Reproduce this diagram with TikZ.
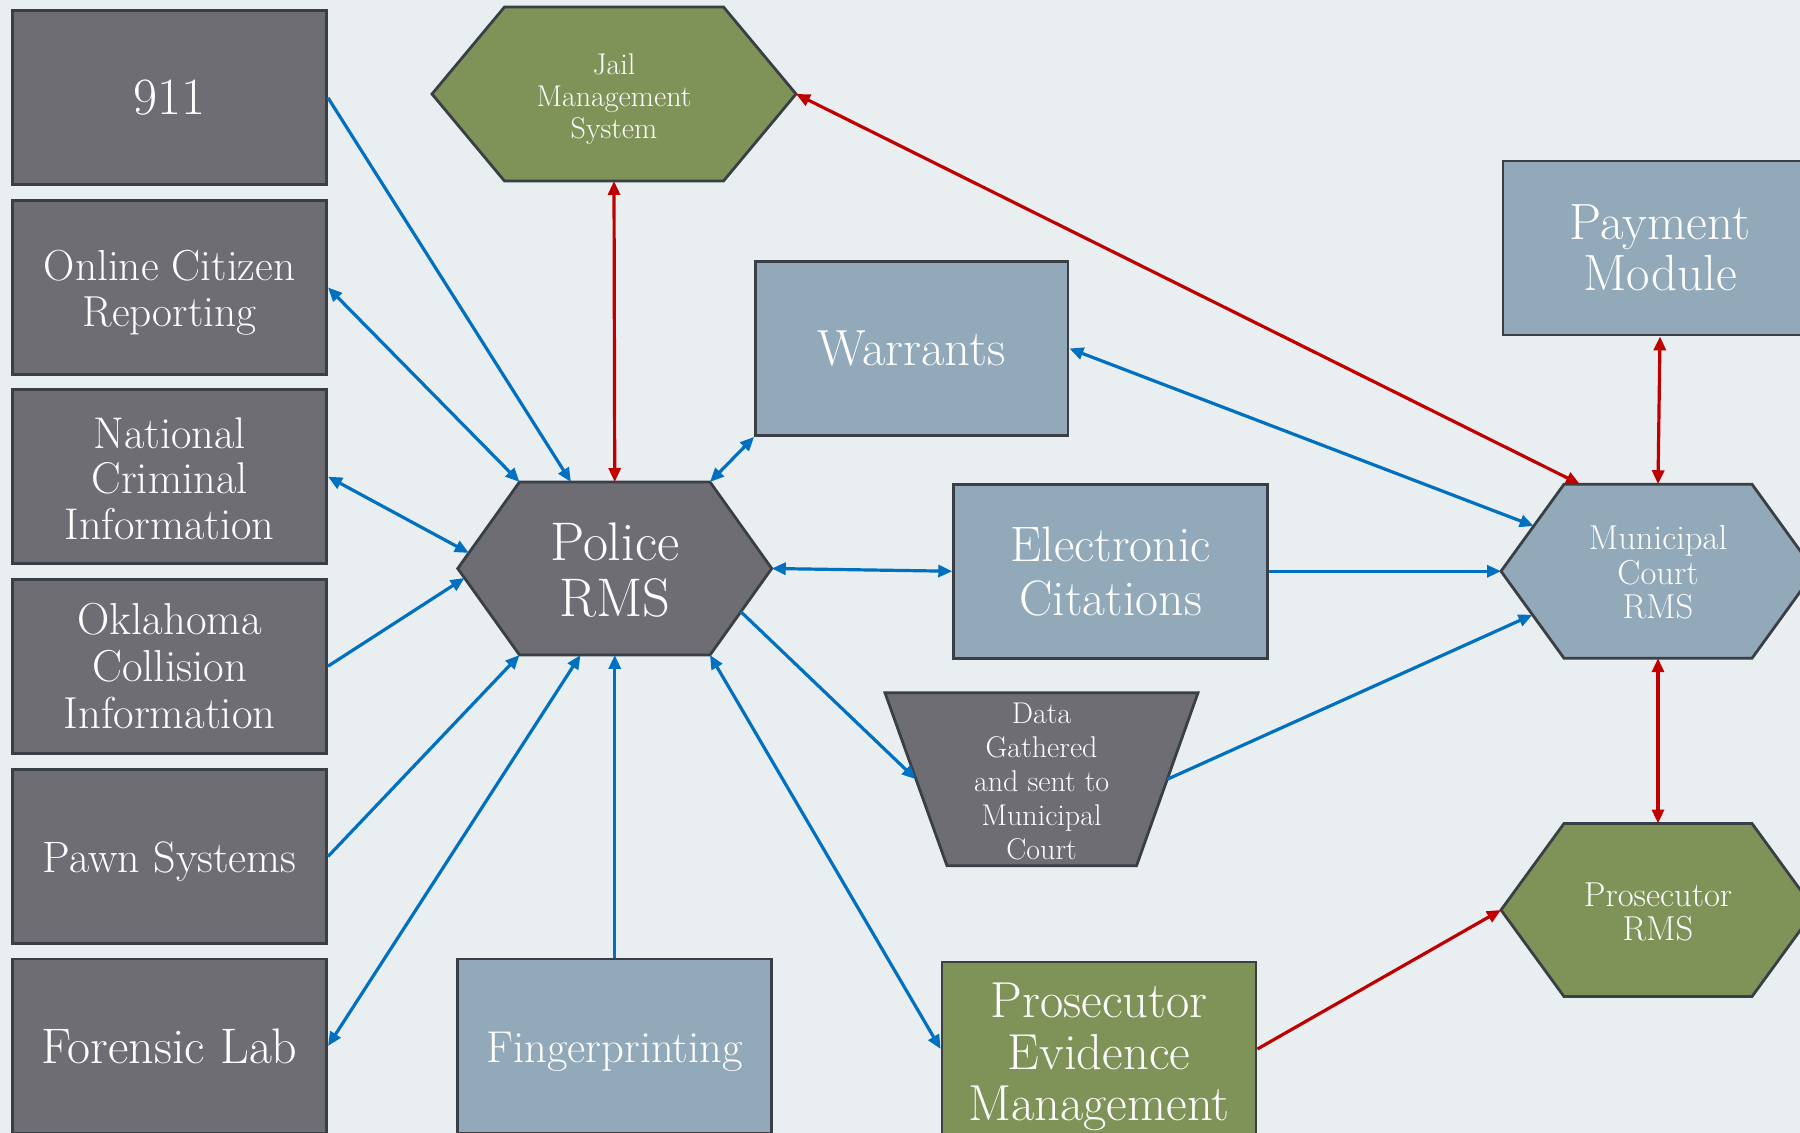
\documentclass[tikz,border=0pt]{standalone}
\usetikzlibrary{calc,arrows.meta}
\definecolor{bgcol}{HTML}{E9EEF1}
\definecolor{edgecol}{HTML}{3A3F45}
\definecolor{darkbox}{HTML}{6E6D73}
\definecolor{slatebox}{HTML}{92A9B9}
\definecolor{olivebox}{HTML}{7F9359}
\definecolor{linkblue}{HTML}{0070C0}
\definecolor{linkred}{HTML}{C00000}
\newcommand\setfs[2]{\fontsize{#1pt}{#2pt}\selectfont}
% name, cx, cy, half width, half flat, half height, style
\newcommand\mkhex[7]{%
  \path[#7] (#2-#4,#3) -- (#2-#5,#3-#6) -- (#2+#5,#3-#6) -- (#2+#4,#3) -- (#2+#5,#3+#6) -- (#2-#5,#3+#6) -- cycle;
  \coordinate (#1-L) at (#2-#4,#3);
  \coordinate (#1-R) at (#2+#4,#3);
  \coordinate (#1-TL) at (#2-#5,#3-#6);
  \coordinate (#1-TR) at (#2+#5,#3-#6);
  \coordinate (#1-BL) at (#2-#5,#3+#6);
  \coordinate (#1-BR) at (#2+#5,#3+#6);
  \coordinate (#1-T) at (#2,#3-#6);
  \coordinate (#1-B) at (#2,#3+#6);
}
\begin{document}
\begin{tikzpicture}[x=0.5pt,y=-0.5pt,
  sysbox/.style={draw=edgecol,line width=1.4pt,minimum width=157pt,minimum height=87pt,inner sep=0pt,text=white,align=center},
  shapeline/.style={draw=edgecol,line width=1.4pt},
  dark/.style={fill=darkbox},
  slate/.style={fill=slatebox},
  olive/.style={fill=olivebox},
  lbl/.style={text=white,align=center,inner sep=0pt},
  tip/.tip={Triangle[length=7pt,width=6pt]},
  bluelink/.style={draw=linkblue,line width=1.6pt,-tip},
  bluelinks/.style={draw=linkblue,line width=1.6pt,tip-tip},
  redlink/.style={draw=linkred,line width=1.6pt,-tip},
  redlinks/.style={draw=linkred,line width=1.6pt,tip-tip}]
\useasboundingbox (0,0) rectangle (1800,1133);
\clip (0,0) rectangle (1800,1133);
\fill[bgcol] (0,0) rectangle (1800,1133);

% left column
\node[sysbox,dark,font=\setfs{26.2}{30}] (n911) at (169.6,97.8) {911};
\node[sysbox,dark] (online) at (169.6,287.5) {};
\node[lbl,font=\setfs{21.7}{23}] (onlinetxt) at ([yshift=-2.5pt]online.center) {Online Citizen\\Reporting};
\node[sysbox,dark] (national) at (169.6,476.7) {};
\node[lbl,font=\setfs{22.2}{22.7}] (nationaltxt) at ([yshift=-1pt]national.center) {National\\Criminal\\Information};
\node[sysbox,dark,font=\setfs{22.4}{23.5}] (oklahoma) at (169.6,666.2) {Oklahoma\\Collision\\Information};
\node[sysbox,dark] (pawn) at (169.6,856.5) {};
\node[lbl,font=\setfs{22}{25}] (pawntxt) at ([yshift=-2.5pt]pawn.center) {Pawn Systems};
\node[sysbox,dark,font=\setfs{25}{28}] (forensic) at (169.6,1046) {Forensic Lab};

% middle
\node[sysbox,slate] (finger) at (614.75,1046) {};
\node[lbl,font=\setfs{22.3}{25}] (fingertxt) at ([yshift=-3pt]finger.center) {Fingerprinting};
\node[sysbox,slate,minimum width=156.25pt,font=\setfs{25.4}{28}] (warrants) at (911.75,348.5) {Warrants};
\node[sysbox,slate,font=\setfs{24.9}{27}] (ecit) at (1110.7,571.25) {Electronic\\Citations};
\node[sysbox,olive] (pem) at (1099,1049) {};
\node[lbl,font=\setfs{25.3}{25.8}] (pemtxt) at ([yshift=-4pt]pem.center) {Prosecutor\\Evidence\\Management};
\node[sysbox,slate,font=\setfs{25.5}{25.5}] (payment) at (1660,248) {Payment\\Module};

% hexagons
\mkhex{jail}{614}{94}{182}{109.5}{87}{shapeline,olive}
\node[lbl,font=\setfs{15}{16}] (jailtxt) at (614,99) {Jail\\Management\\System};
\mkhex{pol}{614.75}{568.5}{157}{95.25}{86.5}{shapeline,dark}
\node[lbl,font=\setfs{27.2}{28}] (police) at (614.75,570.5) {Police\\RMS};
\mkhex{mc}{1658}{571.25}{157}{94}{87}{shapeline,slate}
\node[lbl,font=\setfs{17.3}{17.2}] (mcrms) at (1658,572.5) {Municipal\\Court\\RMS};
\mkhex{pr}{1658}{910}{157}{94}{86.5}{shapeline,olive}
\node[lbl,font=\setfs{17.3}{17}] (prrms) at (1658,912) {Prosecutor\\RMS};

% trapezoid
\path[shapeline,dark] (885,692.8) -- (1198,692.8) -- (1136.5,865.8) -- (947,865.8) -- cycle;
\coordinate (dat-TL) at (885,692.8);
\coordinate (dat-TR) at (1198,692.8);
\coordinate (dat-BR) at (1136.5,865.8);
\coordinate (dat-BL) at (947,865.8);
\node[lbl,font=\setfs{15}{17}] (data) at (1041.6,781) {Data\\Gathered\\and sent to\\Municipal\\Court};

% blue connectors
\draw[bluelink] (n911.east) -- ($(pol-TL)!0.27!(pol-TR)$);
\draw[bluelinks] (online.east) -- (pol-TL);
\draw[bluelinks] (national.east) -- ($(pol-L)!0.18!(pol-TL)$);
\draw[bluelink] (oklahoma.east) -- ($(pol-L)!0.11!(pol-BL)$);
\draw[bluelink] (pawn.east) -- (pol-BL);
\draw[bluelinks] (forensic.east) -- ($(pol-BL)!0.32!(pol-BR)$);
\draw[bluelink] (finger.north) -- (pol-B);
\draw[bluelinks] (pol-BR) -- (pem.west);
\draw[bluelink] ($(pol-R)!0.5!(pol-BR)$) -- ($(dat-TL)!0.5!(dat-BL)$);
\draw[bluelinks] (pol-R) -- (ecit.west);
\draw[bluelinks] (pol-TR) -- (warrants.south west);
\draw[bluelinks] (warrants.east) -- ($(mc-L)!0.52!(mc-TL)$);
\draw[bluelink] (ecit.east) -- (mc-L);
\draw[bluelink] ($(dat-TR)!0.5!(dat-BR)$) -- ($(mc-L)!0.5!(mc-BL)$);

% red connectors
\draw[redlinks] (jail-B) -- (pol-T);
\draw[redlinks] (jail-R) -- ($(mc-TL)!0.085!(mc-TR)$);
\draw[redlinks] (payment.south) -- (mc-T);
\draw[redlinks] (mc-B) -- (pr-T);
\draw[redlink] (pem.east) -- (pr-L);
\end{tikzpicture}
\end{document}
